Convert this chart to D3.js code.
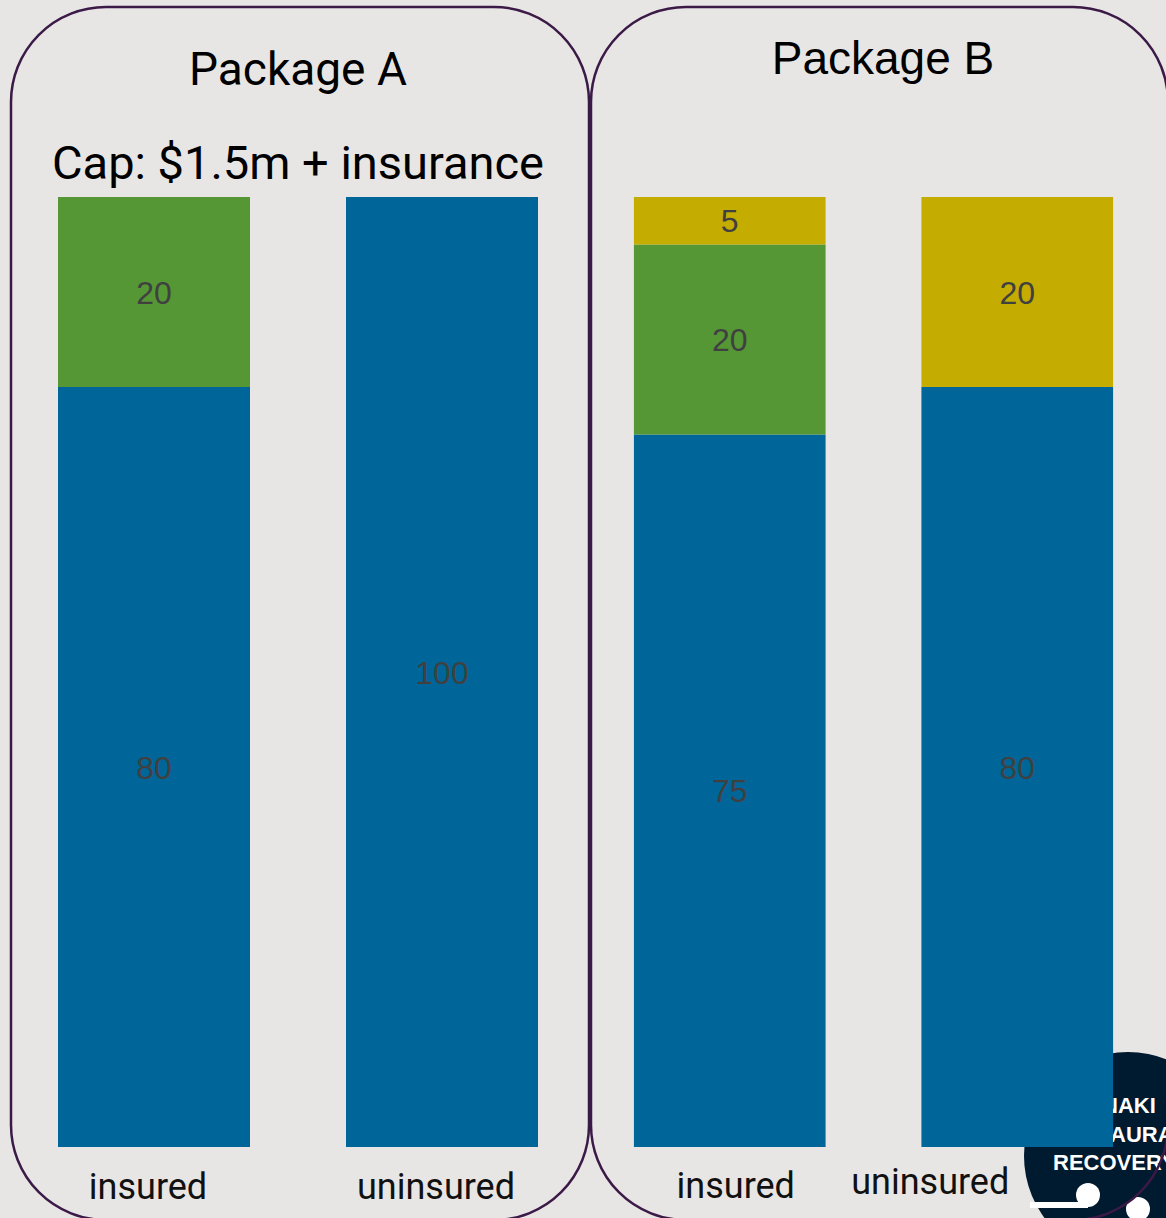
<!DOCTYPE html>
<html>
<head>
<meta charset="utf-8">
<script src="https://cdn.jsdelivr.net/npm/d3@7"></script>
<style>
  html, body { margin: 0; padding: 0; background: #e8e6e4; }
  svg { display: block; }
</style>
</head>
<body>
<svg id="chart" width="1166" height="1218"></svg>
<script>
// ---- data ----
const packages = ["Package A", "Package B"];
const categories = ["insured", "uninsured"];
const seriesNames = ["Base payout", "Insurance", "Extra"];
const baseValuesA = [80, 100];
const insuranceValuesA = [20, 0];
const extraValuesA = [0, 0];
const baseValuesB = [75, 80];
const insuranceValuesB = [20, 0];
const extraValuesB = [5, 20];
const subtitleA = "Cap: $1.5m + insurance";
const logoLines = ["NAKI", "AURA", "RECOVERY"];

// ---- styles / layout ----
const W = 1166, H = 1218;
const colors = { "Base payout": "#006699", "Insurance": "#559735", "Extra": "#c4ac00" };
const border = "#3b1a47";
const svg = d3.select("#chart");
svg.append("rect").attr("width", W).attr("height", H).attr("fill", "#e8e6e4");

const y = d3.scaleLinear().domain([0, 100]).range([1147, 197]);
const panels = [
  { name: packages[0], range: [10, 586], frame: [11, 7, 578, 1213],
    data: categories.map((c, i) => ({ cat: c, "Base payout": baseValuesA[i], "Insurance": insuranceValuesA[i], "Extra": extraValuesA[i] })),
    title: { x: 298, y: 85, font: "Roboto, sans-serif", size: 46 },
    labelPos: [{ dx: -6, y: 1199 }, { dx: -6, y: 1199 }] },
  { name: packages[1], range: [586, 1161], frame: [591, 7, 577, 1213],
    data: categories.map((c, i) => ({ cat: c, "Base payout": baseValuesB[i], "Insurance": insuranceValuesB[i], "Extra": extraValuesB[i] })),
    title: { x: 883, y: 74, font: "'Liberation Sans', Arial, sans-serif", size: 46 },
    labelPos: [{ dx: 6, y: 1198 }, { dx: -87, y: 1194 }] }
];

// ---- logo (behind bars) ----
const logo = svg.append("g");
logo.append("circle").attr("cx", 1128).attr("cy", 1156).attr("r", 104).attr("fill", "#001a30");
logo.append("rect").attr("x", 1030).attr("y", 1202).attr("width", 58).attr("height", 6).attr("fill", "#fff");
logo.append("circle").attr("cx", 1088).attr("cy", 1195).attr("r", 12).attr("fill", "#fff");
logo.append("circle").attr("cx", 1138).attr("cy", 1209).attr("r", 12).attr("fill", "#fff");
const logoText = logo.append("text")
  .attr("font-family", "'Liberation Sans', Arial, sans-serif").attr("font-weight", "bold")
  .attr("font-size", 22).attr("fill", "#fff");
logoText.append("tspan").attr("x", 1102).attr("y", 1113).text(logoLines[0]);
logoText.append("tspan").attr("x", 1110).attr("y", 1142).text(logoLines[1]);
logoText.append("tspan").attr("x", 1053).attr("y", 1170).text(logoLines[2]);

// ---- panels ----
const stack = d3.stack().keys(seriesNames);
panels.forEach(p => {
  const x = d3.scaleBand().domain(categories).range(p.range).paddingInner(1/3).paddingOuter(1/6);
  const g = svg.append("g");
  const layers = stack(p.data);
  layers.forEach(layer => {
    layer.forEach(d => {
      const v = d[1] - d[0];
      if (v <= 0) return;
      g.append("rect")
        .attr("x", x(d.data.cat)).attr("width", x.bandwidth())
        .attr("y", y(d[1])).attr("height", y(d[0]) - y(d[1]))
        .attr("fill", colors[layer.key]);
      g.append("text")
        .attr("x", x(d.data.cat) + x.bandwidth() / 2)
        .attr("y", (y(d[0]) + y(d[1])) / 2)
        .attr("dy", "0.36em")
        .attr("text-anchor", "middle")
        .attr("font-family", "'Liberation Sans', Arial, sans-serif")
        .attr("font-size", 32).attr("fill", "#404040")
        .text(v);
    });
  });
  // category labels
  categories.forEach((c, i) => {
    svg.append("text")
      .attr("x", x(c) + x.bandwidth() / 2 + p.labelPos[i].dx)
      .attr("y", p.labelPos[i].y)
      .attr("text-anchor", "middle")
      .attr("font-family", "Roboto, sans-serif").attr("font-size", 36).attr("fill", "#111")
      .text(c);
  });
  // frame
  svg.append("rect")
    .attr("x", p.frame[0]).attr("y", p.frame[1]).attr("width", p.frame[2]).attr("height", p.frame[3])
    .attr("rx", 95).attr("ry", 95)
    .attr("fill", "none").attr("stroke", border).attr("stroke-width", 2.5);
  // title
  svg.append("text")
    .attr("x", p.title.x).attr("y", p.title.y).attr("text-anchor", "middle")
    .attr("font-family", p.title.font).attr("font-size", p.title.size).attr("fill", "#000")
    .text(p.name);
});

svg.append("text")
  .attr("x", 298).attr("y", 179).attr("text-anchor", "middle")
  .attr("font-family", "Roboto, sans-serif").attr("font-size", 47).attr("fill", "#000")
  .text(subtitleA);
</script>
</body>
</html>
